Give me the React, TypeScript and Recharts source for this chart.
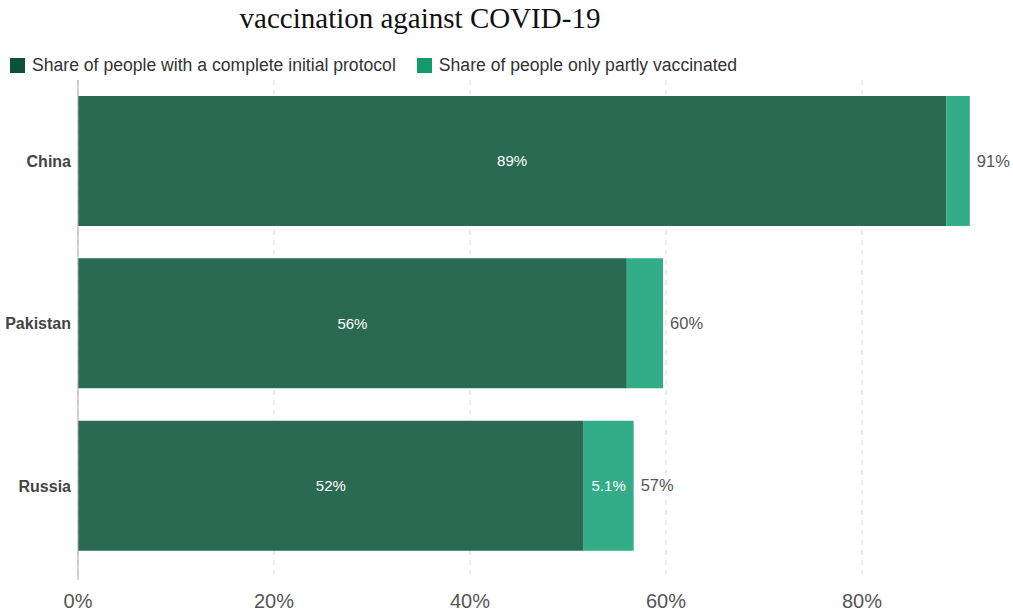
import { BarChart, Bar, XAxis, YAxis, CartesianGrid, LabelList } from 'recharts';

const countries = ['China', 'Pakistan', 'Russia'];
const completeShare = [88.6, 56.0, 51.6];
const partialShare = [2.4, 3.7, 5.1];
const xTicks = [0, 20, 40, 60, 80];
const xMax = 95;

const DARK = '#2a6a53';
const LIGHT = '#32ad87';
const SANS = "'Liberation Sans', Arial, sans-serif";

const data = countries.map((c, i) => ({
  country: c,
  complete: completeShare[i],
  partial: partialShare[i],
  total: completeShare[i] + partialShare[i],
}));

function pct(v: number) {
  return v < 10 ? `${v.toFixed(1)}%` : `${Math.round(v)}%`;
}

function PartialLabel(props: any) {
  const { x, y, width, height, index } = props;
  const row = data[index];
  const cy = y + height / 2;
  return (
    <g>
      {width > 40 && (
        <text x={x + width / 2} y={cy} dy="0.35em" textAnchor="middle" fill="#fff" fontSize={15} fontFamily={SANS}>
          {pct(row.partial)}
        </text>
      )}
      <text x={x + width + 7} y={cy} dy="0.35em" textAnchor="start" fill="#555" fontSize={16.5} fontFamily={SANS}>
        {pct(row.total)}
      </text>
    </g>
  );
}

function LegendItem({ color, label }: { color: string; label: string }) {
  return (
    <span style={{ display: 'inline-flex', alignItems: 'center', marginRight: 21 }}>
      <span style={{ width: 15, height: 15, background: color, display: 'inline-block', marginRight: 7 }} />
      {label}
    </span>
  );
}

// gridlines only at the tick values, not at the plot edge
function gridX({ offset }: any) {
  return xTicks.map((t) => offset.left + (t / xMax) * offset.width);
}

export default function App() {
  return (
    <div style={{ position: 'absolute', left: 0, top: 0, width: 1013, height: 616, background: '#fff' }}>
      <div
        style={{
          position: 'absolute',
          left: 0,
          width: 840,
          top: 0,
          textAlign: 'center',
          fontFamily: "'Liberation Serif', 'Times New Roman', serif",
          fontSize: 29,
          color: '#111',
          lineHeight: '36px',
        }}
      >
        vaccination against COVID-19
      </div>
      <div
        style={{
          position: 'absolute',
          left: 10,
          top: 55,
          fontFamily: SANS,
          fontSize: 17.6,
          color: '#333',
          display: 'flex',
        }}
      >
        <LegendItem color="#0c5236" label="Share of people with a complete initial protocol" />
        <LegendItem color="#139a6c" label="Share of people only partly vaccinated" />
      </div>
      <BarChart
        width={1013}
        height={616}
        data={data}
        layout="vertical"
        margin={{ top: 80, right: 4, bottom: 0, left: 0 }}
        barCategoryGap={16}
      >
        <CartesianGrid
          horizontal={false}
          stroke="#d9d9d9"
          strokeDasharray="5 5"
          verticalCoordinatesGenerator={gridX}
        />
        <XAxis
          type="number"
          domain={[0, xMax]}
          ticks={xTicks}
          tickFormatter={(v) => `${v}%`}
          axisLine={false}
          tickLine={false}
          height={36}
          tickMargin={8}
          tick={{ fontSize: 20, fill: '#555', fontFamily: SANS }}
        />
        <YAxis
          type="category"
          dataKey="country"
          width={78}
          padding={{ top: 0, bottom: 13 }}
          axisLine={{ stroke: '#aaa' }}
          tickLine={false}
          tickSize={0}
          tickMargin={7}
          tick={{ fontSize: 16, fill: '#444', fontWeight: 'bold', fontFamily: SANS }}
        />
        <Bar dataKey="complete" stackId="a" fill={DARK} isAnimationActive={false}>
          <LabelList
            dataKey="complete"
            position="center"
            fill="#fff"
            fontSize={15}
            fontFamily={SANS}
            formatter={(v: any) => pct(Number(v))}
          />
        </Bar>
        <Bar dataKey="partial" stackId="a" fill={LIGHT} isAnimationActive={false}>
          <LabelList dataKey="partial" content={<PartialLabel />} />
        </Bar>
      </BarChart>
    </div>
  );
}
